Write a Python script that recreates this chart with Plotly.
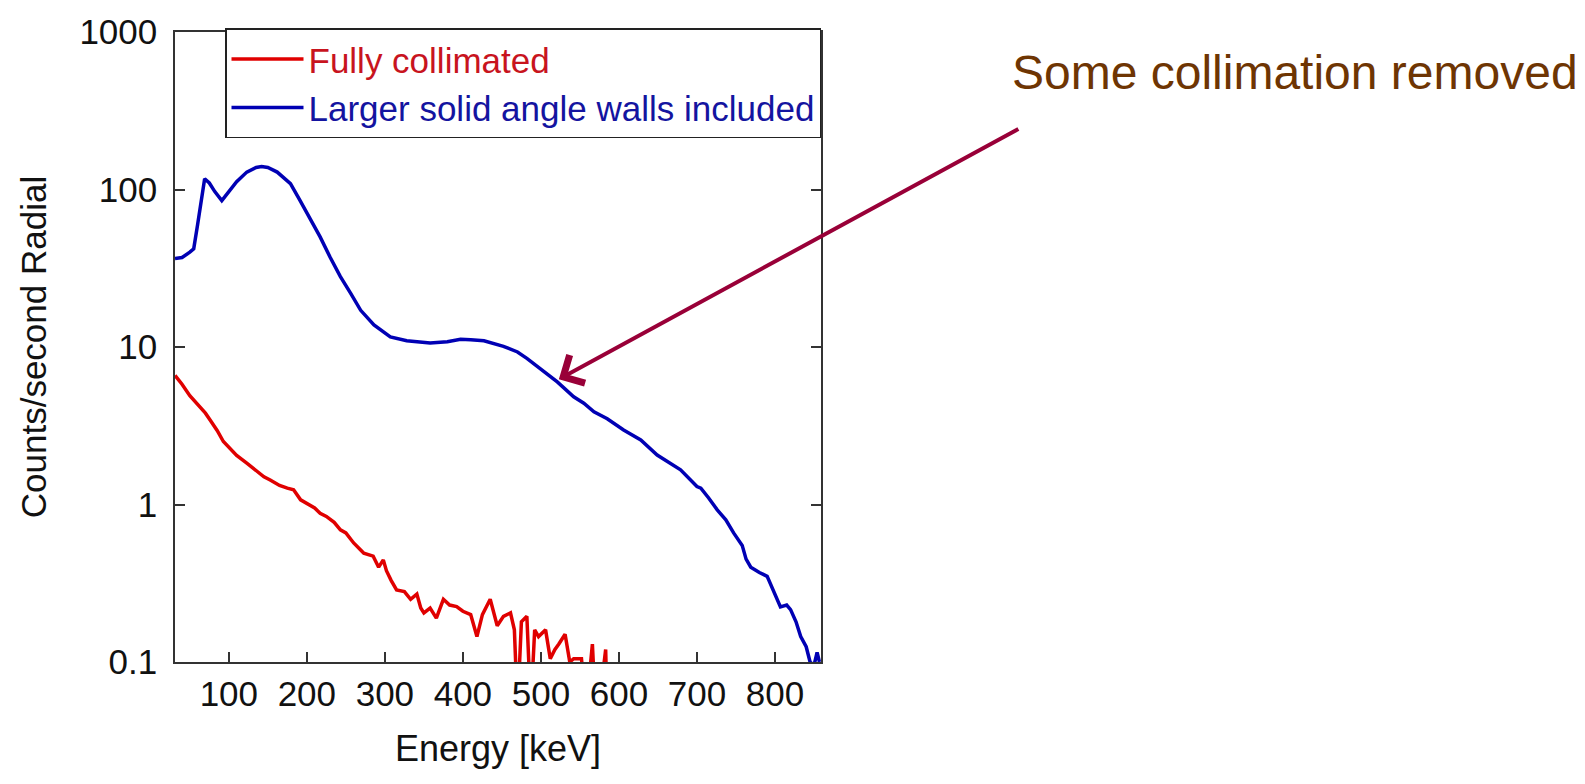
import plotly.graph_objects as go
import math

# ---- data ----
blue_energy = [31, 40, 50, 55, 60, 65, 69, 75, 82, 91, 100, 110, 123, 135, 142, 150, 162, 170, 179, 191,
               204, 217, 230, 243, 256, 269, 286, 307, 328, 358, 380, 397, 410, 427, 452, 470, 482, 499,
               521, 542, 555, 568, 585, 606, 628, 649, 665, 679, 700, 705, 715, 726, 737, 747, 758, 763,
               769, 780, 790, 800, 807, 815, 820, 827, 833, 840, 845, 850, 854, 857]
blue_counts = [36.5, 37, 40, 42, 60, 90, 117, 110, 97, 85, 97, 112, 129, 138, 140, 138, 129, 120, 109, 85.5,
               65, 50, 37, 28, 22, 17.1, 13.8, 11.6, 10.95, 10.6, 10.8, 11.2, 11.1, 10.95, 10.1, 9.3, 8.47, 7.3,
               6.0, 4.83, 4.4, 3.88, 3.5, 2.97, 2.57, 2.06, 1.85, 1.66, 1.30, 1.27, 1.1, 0.925, 0.8, 0.66, 0.55, 0.45,
               0.40, 0.37, 0.35, 0.27, 0.224, 0.23, 0.215, 0.18, 0.145, 0.125, 0.1, 0.095, 0.115, 0.1]

red_energy = [31, 40, 50, 60, 70, 76, 85, 93, 100, 110, 123, 135, 145, 153, 165, 175, 183, 192, 200, 210,
              217, 225, 235, 243, 250, 260, 268, 273, 285, 292, 298, 302, 308, 315, 325, 333, 341, 346, 350,
              358, 366, 375, 383, 392, 400, 410, 418, 425, 435, 444, 452, 461, 466, 470, 475, 482, 487, 492,
              497, 506, 512, 518, 523, 531, 537, 542, 547, 552, 558, 566, 570, 580, 583, 585]
red_counts = [6.6, 5.8, 4.9, 4.3, 3.8, 3.44, 2.95, 2.51, 2.3, 2.05, 1.83, 1.65, 1.5, 1.43, 1.32, 1.27, 1.24, 1.07,
              1.02, 0.95, 0.88, 0.84, 0.77, 0.69, 0.66, 0.57, 0.52, 0.49, 0.47, 0.40, 0.445, 0.38, 0.33, 0.287,
              0.28, 0.25, 0.27, 0.22, 0.205, 0.22, 0.19, 0.25, 0.23, 0.225, 0.21, 0.2, 0.145, 0.2, 0.25, 0.17,
              0.195, 0.205, 0.16, 0.05, 0.18, 0.195, 0.05, 0.16, 0.145, 0.16, 0.105, 0.12, 0.13, 0.15, 0.1,
              0.105, 0.105, 0.105, 0.05, 0.13, 0.05, 0.09, 0.12, 0.05]

x_ticks = [100, 200, 300, 400, 500, 600, 700, 800]
y_ticks = [0.1, 1, 10, 100, 1000]
y_tick_text = ["0.1", "1", "10", "100", "1000"]

series_names = ["Fully collimated", "Larger solid angle walls included"]
arrow_target = (523, 6.25)
annotation_text = "Some collimation removed"

FONT = "Liberation Sans, Arial, sans-serif"
RED = "#e00000"
BLUE = "#0000b4"

fig = go.Figure()
fig.add_trace(go.Scatter(
    x=red_energy, y=red_counts, mode="lines",
    line=dict(color=RED, width=3.5),
    name='<span style="color:#c8141e">%s</span>' % series_names[0]))
fig.add_trace(go.Scatter(
    x=blue_energy, y=blue_counts, mode="lines",
    line=dict(color=BLUE, width=3.5),
    name='<span style="color:#1414a0">%s</span>' % series_names[1]))

axis_common = dict(
    showline=True, linecolor="#333333", linewidth=1.5, mirror="ticks",
    ticks="inside", ticklen=10, tickwidth=1.5, tickcolor="#333333",
    showgrid=False, zeroline=False,
    tickfont=dict(family=FONT, size=35, color="#111111"),
)

fig.update_xaxes(
    range=[31, 859], tickvals=x_ticks, ticklabelstandoff=0,
    title=dict(text="Energy [keV]", font=dict(family=FONT, size=36, color="#111111"), standoff=24),
    **axis_common)
fig.update_yaxes(
    type="log", range=[-1, 3], tickvals=y_ticks, ticktext=y_tick_text, ticklabelstandoff=9,
    title=dict(text="Counts/second Radial", font=dict(family=FONT, size=35, color="#111111"), standoff=22),
    **axis_common)

fig.add_annotation(
    x=arrow_target[0], y=math.log10(arrow_target[1]), xref="x", yref="y",
    ax=461, ay=-251, axref="pixel", ayref="pixel",
    text="", showarrow=True, arrowhead=4, arrowsize=1.55, arrowwidth=4,
    arrowcolor="#990038")

plot_w = 1585 - 175 - 764
plot_h = 784 - 32 - 122
fig.add_annotation(
    x=(1580 - 175) / plot_w, y=(784 - 122 - 72) / plot_h, xref="paper", yref="paper",
    xanchor="right", yanchor="middle", text=annotation_text, showarrow=False,
    font=dict(family=FONT, size=48, color="#6e3503"))

fig.update_layout(
    width=1585, height=784,
    margin=dict(l=175, r=764, t=32, b=122),
    paper_bgcolor="white", plot_bgcolor="white",
    showlegend=True,
    legend=dict(x=1, xanchor="right", y=1.006, yanchor="top",
                bordercolor="#222222", borderwidth=1.5, bgcolor="white",
                font=dict(family=FONT, size=35), itemwidth=72, tracegroupgap=0,
                itemclick=False),
)

fig.write_html("out.html")
